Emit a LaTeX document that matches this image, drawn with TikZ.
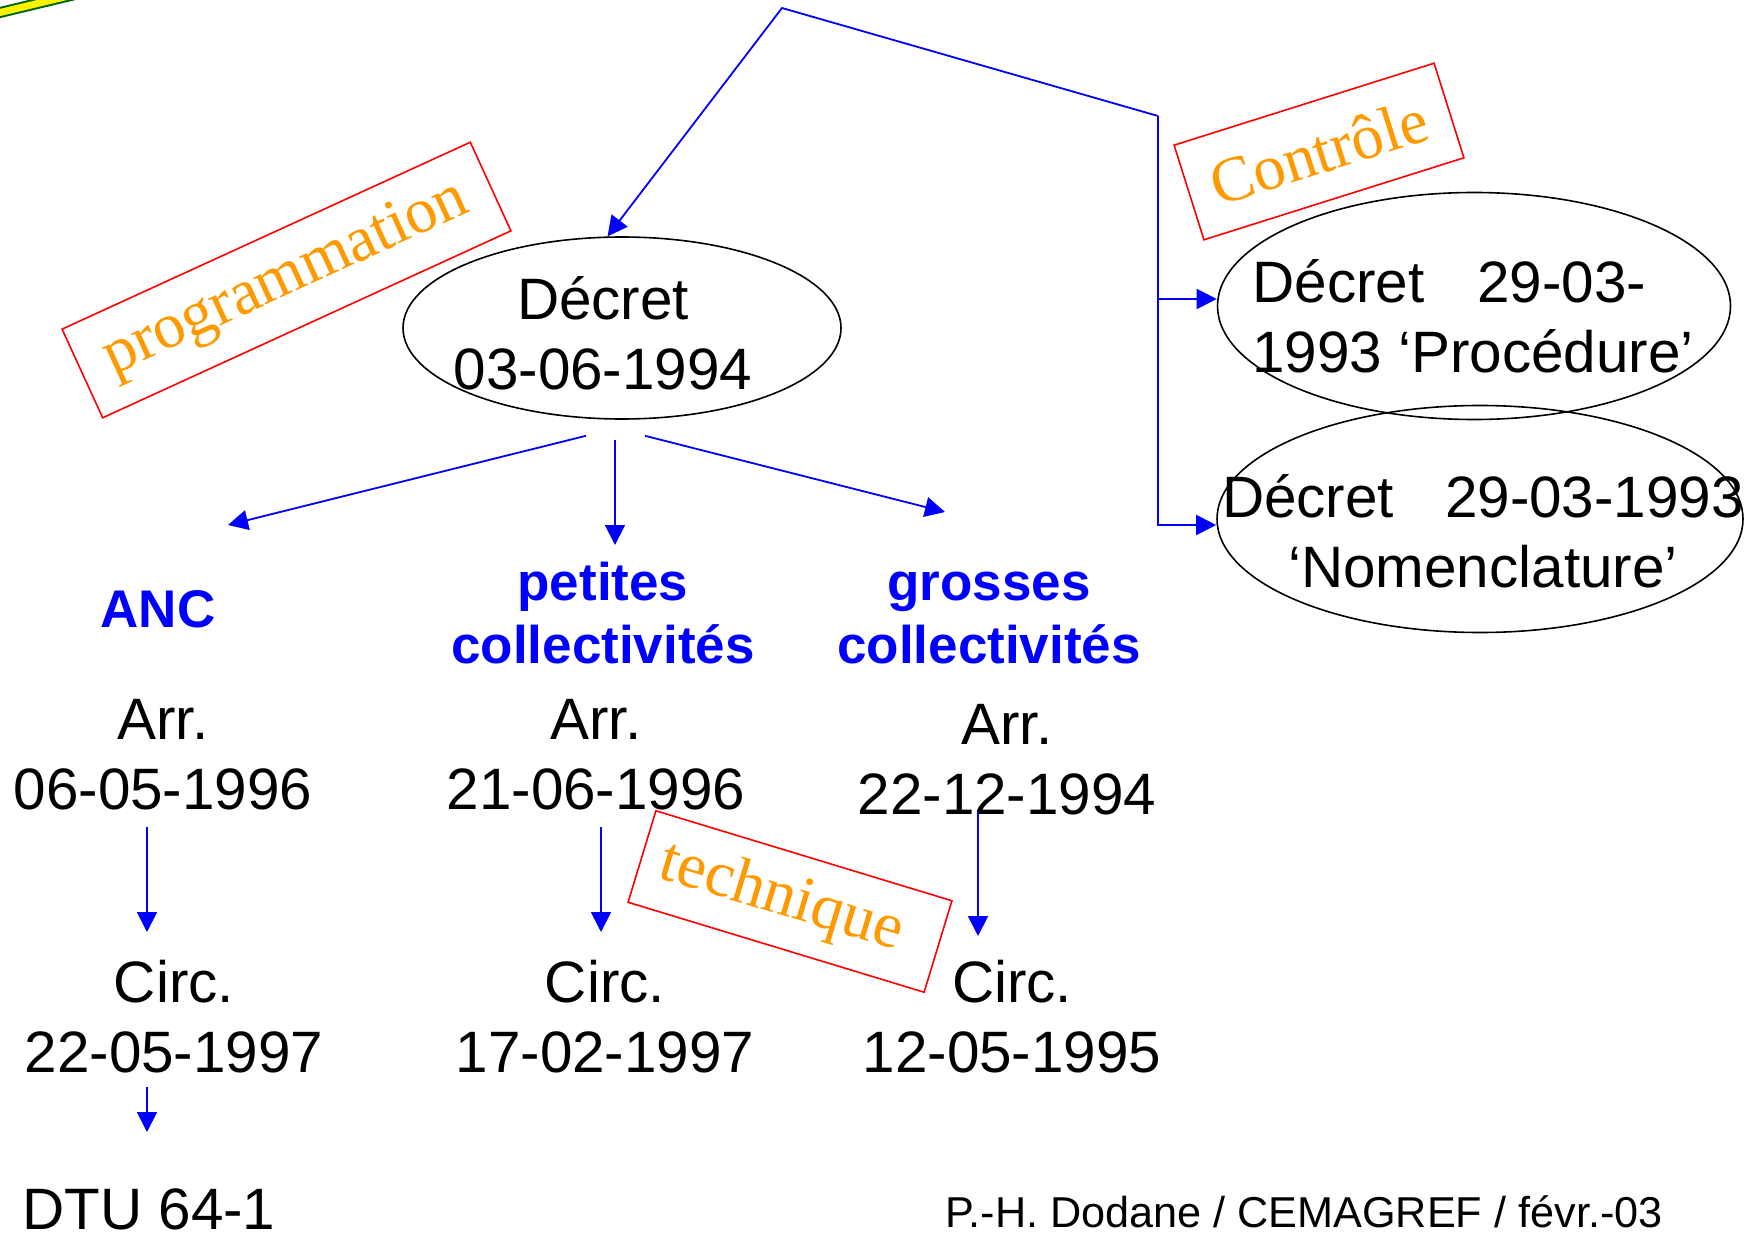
\documentclass[tikz,border=0pt]{standalone}
\usepackage{fontspec}
\setmainfont{Liberation Sans}
\newfontfamily\timesfont{Liberation Serif}
\usetikzlibrary{arrows.meta,shapes.geometric,calc}
\definecolor{orng}{RGB}{255,153,0}
\definecolor{dgreen}{RGB}{0,100,0}
\tikzset{
  blk/.style={font=\fontsize{29.2pt}{35pt}\selectfont, align=center, inner sep=0pt},
  blu/.style={font=\fontsize{26.5pt}{31.5pt}\selectfont\bfseries, text=blue, align=center, inner sep=0pt},
  lbl/.style={draw=red, line width=0.8pt, text=orng, font=\timesfont\fontsize{32pt}{36pt}\selectfont, inner sep=0pt},
  ell/.style={draw, ellipse, line width=0.8pt, inner sep=0pt},
  arr/.style={draw=blue, line width=0.9pt, -{Triangle[length=10pt,width=10pt]}},
}
\begin{document}
\begin{tikzpicture}[x=0.5pt, y=-0.5pt]
\useasboundingbox (0,0) rectangle (1764,1235);
% decorative stroke top-left
\draw[line width=5.5pt, dgreen] (-10,14.9) -- (90,-9.1);
\draw[line width=3.5pt, yellow] (-10,14.9) -- (90,-9.1);

% ellipses
\node[ell, minimum width=219pt, minimum height=91pt] (dec) at (622,328) {};
\node[ell, minimum width=256.5pt, minimum height=113.5pt] (proc) at (1474,306) {};
\node[ell, minimum width=263pt, minimum height=113.5pt] (nom) at (1480,519) {};

% ellipse texts
\node[blk] (dect) at (603,333) {Décret\\03-06-1994};
\node[blk, anchor=west, align=left] (proct) at (1252,316) {Décret\hspace{26.5pt}29-03-\\1993 ‘Procédure’};
\node[blk] (nomt) at (1483,531) {Décret\hspace{25.5pt}29-03-1993\\‘Nomenclature’};

% blue category labels
\node[blu] (anc) at (158,609) {ANC};
\node[blu] (pet) at (603,613) {petites\\collectivités};
\node[blu] (gro) at (989,617.5) {grosses\\collectivités};

% black texts
\node[blk] (a1) at (163,755) {Arr.\\06-05-1996};
\node[blk] (a2) at (596,755) {Arr.\\21-06-1996};
\node[blk] (a3) at (1007,760) {Arr.\\22-12-1994};
\node[blk] (c1) at (174,1017) {Circ.\\22-05-1997};
\node[blk] (c2) at (605,1017) {Circ.\\17-02-1997};
\node[blk] (c3) at (1012,1017) {Circ.\\12-05-1995};
\node[blk, anchor=west] (dtu) at (22,1209) {DTU 64-1};
\node[font=\fontsize{21.6pt}{25pt}\selectfont, anchor=west, inner sep=0pt] (foot) at (945,1212) {P.-H. Dodane / CEMAGREF / févr.-03};

% orange rotated labels
\node[lbl, rotate=24.6, minimum width=224.5pt, minimum height=48.75pt] (prog) at (286.5,280) {programmation};
\node[lbl, rotate=17.5, minimum width=136.3pt, minimum height=49.6pt] (ctrl) at (1319,151.5) {Contrôle};
\node[lbl, rotate=-16.9, minimum width=154.7pt, minimum height=47.8pt, font=\timesfont\fontsize{32.3pt}{36pt}\selectfont] (tech) at (790,901.5) {technique\kern9pt};

% top connector
\coordinate (apex) at (782,8);
\coordinate (elbow) at (1158,116);
\draw[arr] (elbow) -- (apex) -- (dec.99);
\draw[arr] (elbow) |- ([yshift=3.5pt]proc.west);
\draw[arr] (elbow) |- ([yshift=-3pt]nom.west);

% arrows from the decree
\coordinate (tA) at (228,525);
\coordinate (tP) at (615,545);
\coordinate (tG) at (945,512);
\draw[arr] ($(dec.south)+(-36,16)$) -- (tA);
\draw[arr] ($(dec.south)+(-7,20)$) -- (tP);
\draw[arr] ($(dec.south)+(23,16)$) -- (tG);

% column arrows
\coordinate (s1) at (147,827);  \coordinate (e1) at (147,932);
\coordinate (s2) at (601,827);  \coordinate (e2) at (601,932);
\coordinate (s3) at (978,812);  \coordinate (e3) at (978,936);
\coordinate (s4) at (147,1087); \coordinate (e4) at (147,1132);
\draw[arr] (s1) -- (e1);
\draw[arr] (s2) -- (e2);
\draw[arr] (s3) -- (e3);
\draw[arr] (s4) -- (e4);
\end{tikzpicture}
\end{document}
